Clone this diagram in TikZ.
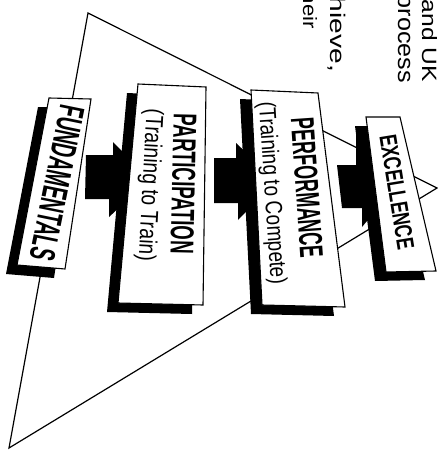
\documentclass[tikz,border=0pt]{standalone}
\usepackage{fontspec}
\setmainfont{Liberation Sans}
\usepackage{graphicx}
\begin{document}
\begin{tikzpicture}[x=1pt,y=-1pt,
  frame/.style={draw=black, line width=1.1pt, fill=white, line join=miter},
  dropshade/.style={fill=black},
  blockarrow/.style={fill=black},
  pyr/.style={draw=black, line width=1.2pt, line join=miter},
  lbl/.style={inner sep=0pt, outer sep=0pt, text=black},
  shadowshift/.style={shift={(-11,9)}}
]
\useasboundingbox (0,0) rectangle (438,450);
\clip (0,0) rectangle (438,450);

% pyramid behind the boxes
\coordinate (top) at (88,13);
\coordinate (apex) at (437,188);
\coordinate (bot) at (9,448);
\draw[pyr] (top) -- (apex) -- (bot) -- cycle;

% FUNDAMENTALS
\coordinate (f1) at (49,98);  \coordinate (f2) at (91,99);
\coordinate (f3) at (65,269); \coordinate (f4) at (17,265);
\fill[dropshade] ([shadowshift]f1) -- ([shadowshift]f2) -- ([shadowshift]f3) -- ([shadowshift]f4) -- cycle;
\path[frame] (f1) -- (f2) -- (f3) -- (f4) -- cycle;
\node[lbl, rotate=-101.5] (f) at (57,183) {\resizebox{157pt}{25pt}{\bfseries FUNDAMENTALS}};

% arrow F -> P
\fill[blockarrow] (86,155) -- (113,155) -- (113,142) -- (150,179) -- (109,217) -- (109,199) -- (85,199) -- cycle;

% PARTICIPATION
\coordinate (p1) at (138,84);  \coordinate (p2) at (206,87);
\coordinate (p3) at (203,305); \coordinate (p4) at (118,303);
\fill[dropshade] ([shadowshift]p1) -- ([shadowshift]p2) -- ([shadowshift]p3) -- ([shadowshift]p4) -- cycle;
\path[frame] (p1) -- (p2) -- (p3) -- (p4) -- cycle;
\node[lbl, rotate=-91.3] (p) at (183.5,184) {\resizebox{140pt}{23pt}{\bfseries PARTICIPATION}};
\node[lbl, rotate=-93] (ps) at (149,185) {\resizebox*{152pt}{23pt}{(Training to Train)}};

% arrow P -> PF
\fill[blockarrow] (214,158) -- (236,158) -- (236,143) -- (276,181) -- (238,220) -- (238,203) -- (214,203) -- cycle;

% PERFORMANCE
\coordinate (r1) at (251,90);  \coordinate (r2) at (318,93);
\coordinate (r3) at (345,307); \coordinate (r4) at (262,305);
\fill[dropshade] ([shadowshift]r1) -- ([shadowshift]r2) -- ([shadowshift]r3) -- ([shadowshift]r4) -- cycle;
\path[frame] (r1) -- (r2) -- (r3) -- (r4) -- cycle;
\node[lbl, rotate=-86] (pf) at (307,188) {\resizebox{140pt}{23pt}{\bfseries PERFORMANCE}};
\node[lbl, rotate=-86.2] (pfs) at (271,193) {\resizebox*{183pt}{22pt}{(Training to Compete)}};

% arrow PF -> E
\fill[blockarrow] (337,165) -- (356,165) -- (356,134) -- (396,186) -- (362,227) -- (362,208) -- (342,208) -- cycle;

% EXCELLENCE
\coordinate (e1) at (366,117); \coordinate (e2) at (400,117);
\coordinate (e3) at (436,271); \coordinate (e4) at (386,272);
\fill[dropshade] ([shadowshift]e1) -- ([shadowshift]e2) -- ([shadowshift]e3) -- ([shadowshift]e4) -- cycle;
\path[frame] (e1) -- (e2) -- (e3) -- (e4) -- cycle;
\node[lbl, rotate=-80.7] (e) at (397,192) {\resizebox{116pt}{17pt}{\bfseries EXCELLENCE}};

% cut-off paragraph text at the top
\node[lbl, rotate=-90, anchor=base east] (t1) at (422,82) {\resizebox{82pt}{15pt}{and UK}};
\node[lbl, rotate=-90, anchor=base east] (t2) at (398,83) {\resizebox*{88pt}{17pt}{process}};
\node[lbl, rotate=-90, anchor=base east] (t3) at (330,72) {\resizebox*{75pt}{18pt}{hieve,}};
\node[lbl, rotate=-90, anchor=base east] (t4) at (303,29) {\resizebox{37pt}{14pt}{heir}};
\end{tikzpicture}
\end{document}
